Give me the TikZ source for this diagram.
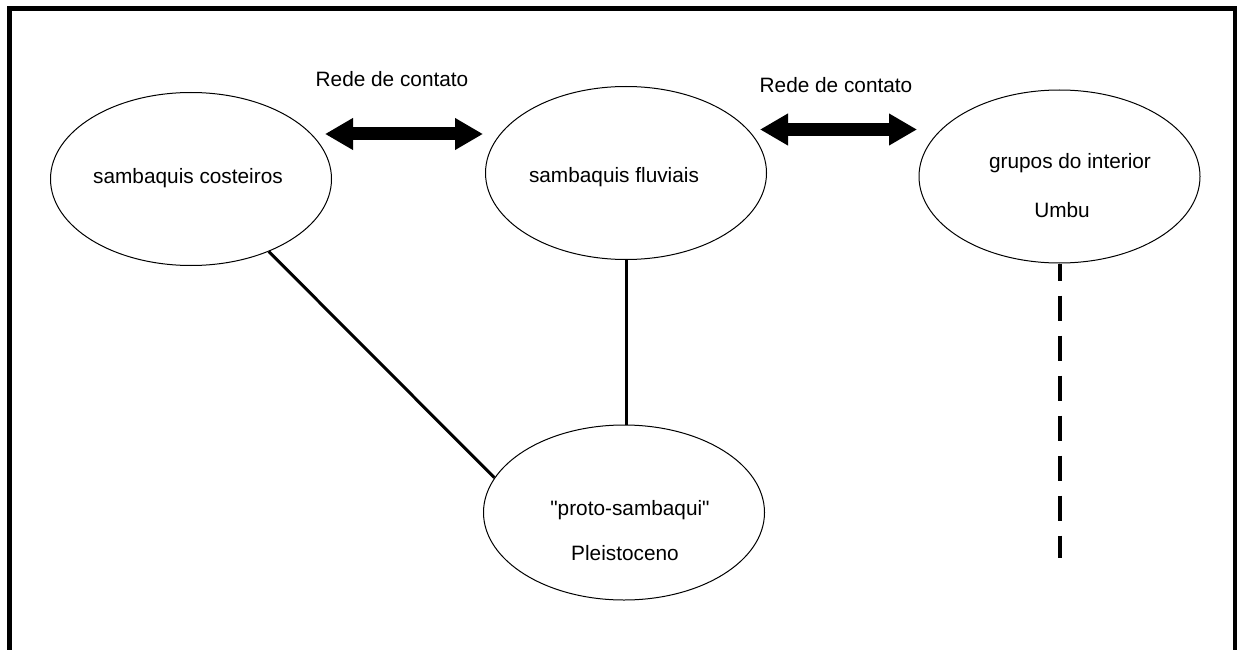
\documentclass[tikz,border=0pt]{standalone}
\usepackage{fontspec}
\setmainfont{Liberation Sans}[Ligatures=TeXOff]
\usetikzlibrary{arrows.meta,shapes.geometric}
\begin{document}
\begin{tikzpicture}[x=1pt,y=-1pt,
  oval/.style={draw, ellipse, line width=1pt, minimum width=281pt, minimum height=173pt, inner sep=0pt},
  lbl/.style={font=\fontsize{20.8}{24}\selectfont, inner sep=0pt},
  link/.style={line width=3pt},
  dashlink/.style={line width=4pt, dash pattern=on 25pt off 15pt, dash phase=8pt},
  contact/.style={line width=13pt, {Triangle[length=28pt,width=30pt]}-{Triangle[length=28pt,width=30pt]}}]
\useasboundingbox (0,0) rectangle (1239,650);
\clip (0,0) rectangle (1239,650);
\draw[line width=4.5pt] (9.5,8.5) rectangle (1235,700);

\node[oval] (costeiros) at (191,179) {};
\node[oval] (fluviais) at (626,173) {};
\node[oval] (grupos) at (1059.5,176.5) {};
\node[oval, minimum height=175pt] (proto) at (624,512.5) {};

\node[lbl] (tcost) at (188,178) {sambaquis costeiros};
\node[lbl] (tfluv) at (614,177) {sambaquis fluviais};
\node[lbl] (tgrup) at (1070,163) {grupos do interior};
\node[lbl] (tumbu) at (1062,210) {Umbu};
\node[lbl] (tproto) at (630,510) {"proto-sambaqui"};
\node[lbl] (tpleis) at (625,553) {Pleistoceno};
\node[lbl] (rede1) at (392,79.5) {Rede de contato};
\node[lbl] (rede2) at (836,85.5) {Rede de contato};

\coordinate (a1l) at (325,134);
\coordinate (a1r) at (483,134);
\coordinate (a2l) at (760,129.5);
\coordinate (a2r) at (917,129.5);
\draw[contact] (a1l) -- (a1r);
\draw[contact] (a2l) -- (a2r);

\draw[link] (costeiros.-43.5) -- (proto.165.2);
\draw[link] (fluviais.south) -- (fluviais.south |- proto.north);
\coordinate (dashend) at (1059.5,558);
\draw[dashlink] (grupos.south) -- (dashend);
\end{tikzpicture}
\end{document}
